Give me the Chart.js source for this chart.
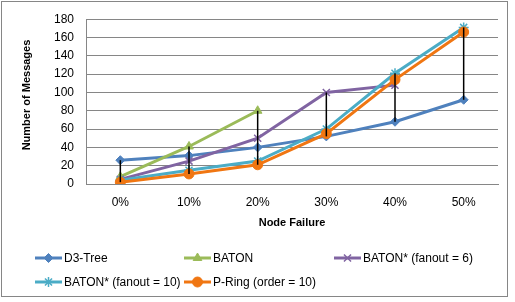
<!DOCTYPE html>
<html>
<head>
<meta charset="utf-8">
<script src="https://cdn.jsdelivr.net/npm/chart.js@4/dist/chart.umd.min.js"></script>
<style>
  body { margin: 0; background: #fff; }
  canvas { display: block; }
</style>
</head>
<body>
<canvas id="chart" width="515" height="302"></canvas>
<script>
// data
var categories = ['0%', '10%', '20%', '30%', '40%', '50%'];
var d3Tree   = [26, 31, 40, 52, 68, 92];
var baton    = [8, 41, 80, null, null, null];
var baton6   = [5, 25, 50, 100, 108, null];
var baton10  = [4, 15, 25, 60, 121, 171];
var pRing    = [2, 11, 21, 55, 114, 166];
var yTicks   = [0, 20, 40, 60, 80, 100, 120, 140, 160, 180];

var FONT = '"Liberation Sans", Arial, sans-serif';

function series(label, data, color, style, radius, order) {
    return {
        label: label,
        data: data,
        borderColor: color,
        backgroundColor: color,
        borderWidth: 3,
        tension: 0,
        spanGaps: false,
        pointStyle: style,
        pointRadius: radius,
        pointBorderWidth: (style == 'crossRot' || style == 'star') ? 1.5 : 1,
        pointBackgroundColor: color,
        pointBorderColor: color,
        order: order
    };
}

var datasets = [
    series('D3-Tree', d3Tree, '#4F81BD', 'rectRot', 4.5, 4),
    series('BATON', baton, '#9BBB59', 'triangle', 5, 3),
    series('BATON* (fanout = 6)', baton6, '#8064A2', 'crossRot', 5, 2),
    series('BATON* (fanout = 10)', baton10, '#4BACC6', 'star', 5, 1),
    series('P-Ring (order = 10)', pRing, '#F07612', 'circle', 5, 0)
];

// excel style high-low lines
var highLow = {
    id: 'highLow',
    afterDatasetsDraw: function (chart) {
        var ctx = chart.ctx;
        var xs = chart.scales.x, ys = chart.scales.y;
        ctx.save();
        ctx.strokeStyle = '#000';
        ctx.lineWidth = 1.5;
        for (var i = 0; i < categories.length; i++) {
            var vals = [];
            chart.data.datasets.forEach(function (ds) {
                if (ds.data[i] != null) vals.push(ds.data[i]);
            });
            if (vals.length < 2) continue;
            var x = xs.getPixelForValue(i);
            ctx.beginPath();
            ctx.moveTo(x, ys.getPixelForValue(Math.max.apply(null, vals)));
            ctx.lineTo(x, ys.getPixelForValue(Math.min.apply(null, vals)));
            ctx.stroke();
        }
        ctx.restore();
    }
};

// border, y title and legend in two fixed columns
var extras = {
    id: 'extras',
    afterDraw: function (chart) {
        var ctx = chart.ctx;
        ctx.save();
        ctx.strokeStyle = '#868686';
        ctx.lineWidth = 1;
        ctx.strokeRect(1.5, 1.5, 506, 295);

        ctx.fillStyle = '#000';
        ctx.font = 'bold 11px ' + FONT;
        ctx.textAlign = 'center';
        ctx.textBaseline = 'middle';
        ctx.translate(27, 95);
        ctx.rotate(-Math.PI / 2);
        ctx.fillText('Number of Messages', 0, 0);
        ctx.restore();

        var spots = [[35, 258], [184, 258], [334, 258], [35, 282], [184, 282]];
        ctx.save();
        ctx.font = '12px ' + FONT;
        ctx.textBaseline = 'middle';
        ctx.textAlign = 'left';
        chart.data.datasets.forEach(function (ds, i) {
            var x = spots[i][0], y = spots[i][1];
            ctx.strokeStyle = ds.borderColor;
            ctx.fillStyle = ds.borderColor;
            ctx.lineWidth = 3;
            ctx.beginPath();
            ctx.moveTo(x, y);
            ctx.lineTo(x + 27, y);
            ctx.stroke();
            ctx.lineWidth = ds.pointBorderWidth;
            Chart.helpers.drawPoint(ctx, {
                pointStyle: ds.pointStyle,
                radius: ds.pointRadius,
                rotation: 0,
                borderWidth: ds.pointBorderWidth
            }, x + 13.5, y);
            ctx.fillStyle = '#000';
            ctx.fillText(ds.label, x + 29, y + 1);
        });
        ctx.restore();
    }
};

var chart = new Chart(document.getElementById('chart'), {
    type: 'line',
    data: { labels: categories, datasets: datasets },
    plugins: [highLow, extras],
    options: {
        responsive: false,
        animation: false,
        layout: { padding: { top: 15, left: 4, right: 17, bottom: 72 } },
        plugins: {
            legend: { display: false },
            tooltip: { enabled: false }
        },
        scales: {
            x: {
                offset: true,
                grid: { display: false },
                border: { color: '#868686', width: 1 },
                ticks: { color: '#000', font: { family: FONT, size: 12 }, padding: 3, maxRotation: 0 },
                title: {
                    display: true,
                    text: 'Node Failure',
                    color: '#000',
                    font: { family: FONT, size: 11, weight: 'bold' },
                    padding: { top: 0, bottom: 0 }
                },
                afterFit: function (s) { s.height = 46; }
            },
            y: {
                min: 0,
                max: 180,
                grid: { color: '#868686', drawTicks: false },
                border: { color: '#868686', width: 1 },
                ticks: {
                    stepSize: 20,
                    color: '#000',
                    padding: 12,
                    font: { family: FONT, size: 12 },
                    callback: function (v) { return yTicks.indexOf(v) >= 0 ? v : ''; }
                },
                afterFit: function (s) { s.width = 82; }
            }
        }
    }
});
</script>
</body>
</html>
